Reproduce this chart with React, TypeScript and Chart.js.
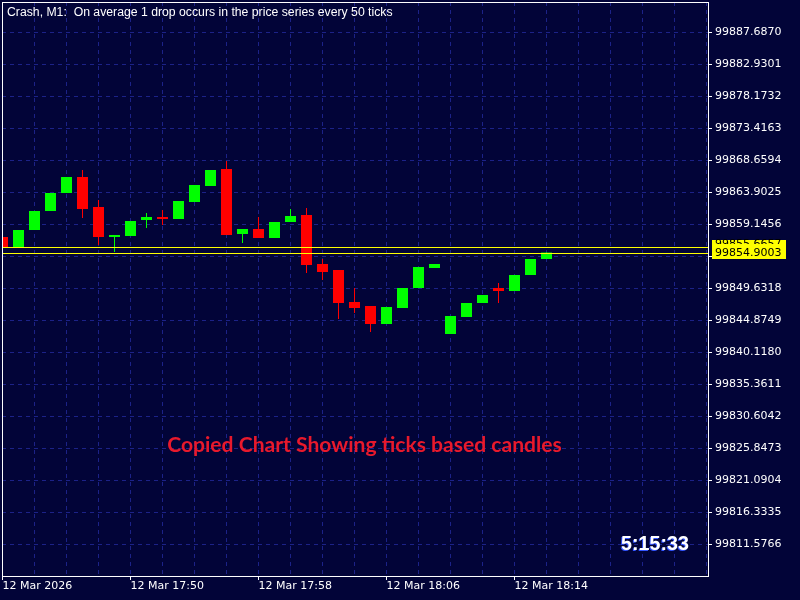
import React, { useEffect, useRef } from 'react';
import { Chart, registerables } from 'chart.js';

Chart.register(...registerables);

// ---- data ----
const candleTimes = [
  '17:42', '17:43', '17:44', '17:45', '17:46', '17:47', '17:48', '17:49', '17:50', '17:51',
  '17:52', '17:53', '17:54', '17:55', '17:56', '17:57', '17:58', '17:59', '18:00', '18:01',
  '18:02', '18:03', '18:04', '18:05', '18:06', '18:07', '18:08', '18:09', '18:10', '18:11',
  '18:12', '18:13', '18:14', '18:15', '18:16',
];

const openPrices = [
  99857.2131, 99855.7266, 99858.2537, 99861.0781, 99863.7539, 99866.1323, 99861.6727, 99857.2131, 99857.3618, 99859.7402,
  99860.1862, 99859.8889, 99862.4160, 99864.7944, 99867.3215, 99857.6591, 99858.4023, 99857.0645, 99859.4429, 99860.4835,
  99853.1995, 99852.3076, 99847.5507, 99846.9560, 99844.2803, 99846.6587, 99849.6318, 99852.6049, 99842.7938, 99845.3209,
  99847.4020, 99849.6318, 99849.1858, 99851.5643, 99853.9427,
];

const highPrices = [
  99857.2131, 99858.2537, 99861.0781, 99863.7539, 99866.1323, 99867.1729, 99862.7133, 99857.5104, 99859.5916, 99860.7808,
  99861.2267, 99862.5646, 99864.9431, 99867.1729, 99868.5107, 99858.4023, 99860.1862, 99859.4429, 99861.3754, 99861.5240,
  99853.9427, 99852.3076, 99849.6318, 99846.9560, 99846.8074, 99849.6318, 99852.7535, 99853.1995, 99845.4695, 99847.4020,
  99848.5912, 99850.3751, 99851.5643, 99853.9427, 99854.9003,
];

const lowPrices = [
  99855.5779, 99855.7266, 99858.2537, 99861.0781, 99863.7539, 99860.0375, 99856.0239, 99854.9833, 99857.3618, 99858.5510,
  99858.9970, 99859.8889, 99862.4160, 99864.7944, 99857.5104, 99856.3212, 99857.0645, 99857.0645, 99859.4429, 99851.8616,
  99850.8210, 99845.0236, 99845.9155, 99843.0911, 99844.2803, 99846.6587, 99849.6318, 99852.6049, 99842.7938, 99845.3209,
  99847.4020, 99847.4020, 99849.1858, 99851.5643, 99853.9427,
];

const closePrices = [
  99855.5779, 99858.2537, 99861.0781, 99863.7539, 99866.1323, 99861.3754, 99857.2131, 99857.5104, 99859.5916, 99860.1862,
  99859.8889, 99862.5646, 99864.9431, 99867.1729, 99857.5104, 99858.4023, 99857.0645, 99859.4429, 99860.3348, 99853.0508,
  99852.0103, 99847.4020, 99846.6587, 99844.2803, 99846.8074, 99849.6318, 99852.7535, 99853.1995, 99845.4695, 99847.4020,
  99848.5912, 99849.1858, 99851.5643, 99853.9427, 99854.9003,
];

const priceTicks = [
  99811.5766, 99816.3335, 99821.0904, 99825.8473, 99830.6042, 99835.3611, 99840.1180, 99844.8749, 99849.6318,
  99854.3887, 99859.1456, 99863.9025, 99868.6594, 99873.4163, 99878.1732, 99882.9301, 99887.6870,
];

const timeTickIndex = [0, 8, 16, 24, 32];
const timeTickLabels = ['12 Mar 2026', '12 Mar 17:50', '12 Mar 17:58', '12 Mar 18:06', '12 Mar 18:14'];

const askPrice = 99855.6657;
const bidPrice = 99854.9003;

const titleText = 'Crash, M1:  On average 1 drop occurs in the price series every 50 ticks';
const noteText = 'Copied Chart Showing ticks based candles';
const timerText = '5:15:33';

const priceMin = 99806.8197;
const priceMax = 99892.1466;
const indexMin = -0.03125;
const indexMax = 44.09375;

// ---- styles ----
const BG = '#020438';
const GRID = '#1c2288';
const UP = '#00ff00';
const DOWN = '#ff0000';
const YELLOW = '#ffff00';
const AXIS_FONT = { family: '"DejaVu Sans"', size: 11 };

function fitSize(ctx: CanvasRenderingContext2D, text: string, weight: string, family: string, width: number) {
  ctx.font = `${weight} 100px ${family}`;
  const w = ctx.measureText(text).width;
  return (100 * width) / w;
}

const overlayPlugin = {
  id: 'overlay',
  beforeDraw(chart: any) {
    const { ctx, width, height } = chart;
    ctx.save();
    ctx.fillStyle = BG;
    ctx.fillRect(0, 0, width, height);
    ctx.restore();
  },
  afterDraw(chart: any) {
    const { ctx, chartArea } = chart;
    const ys = chart.scales.y;
    const { left, right, top, bottom } = chartArea;
    ctx.save();

    // ask / bid lines
    const yAsk = ys.getPixelForValue(askPrice);
    const yBid = ys.getPixelForValue(bidPrice);
    ctx.strokeStyle = YELLOW;
    ctx.lineWidth = 1;
    ctx.setLineDash([]);
    [yAsk, yBid].forEach((y) => {
      const py = Math.round(y) + 0.5;
      ctx.beginPath();
      ctx.moveTo(left, py);
      ctx.lineTo(right, py);
      ctx.stroke();
    });

    // frame
    ctx.strokeStyle = '#ffffff';
    ctx.strokeRect(left + 0.5, top + 0.5, right - left, bottom - top);

    // price labels
    ctx.font = '11px "DejaVu Sans"';
    ctx.textAlign = 'left';
    ctx.textBaseline = 'middle';
    ctx.fillStyle = YELLOW;
    ctx.fillRect(right + 4, Math.round(yAsk) - 7, 74, 14);
    ctx.fillStyle = '#000000';
    ctx.fillText(askPrice.toFixed(4), right + 7, yAsk - 3.4);
    ctx.fillStyle = YELLOW;
    ctx.fillRect(right + 4, Math.round(yBid) - 9, 74, 15);
    ctx.fillStyle = '#000000';
    ctx.fillText(bidPrice.toFixed(4), right + 7, yBid + 0.5);

    // title
    ctx.textBaseline = 'alphabetic';
    const ts = fitSize(ctx, titleText, 'normal', '"Liberation Sans"', 386);
    ctx.font = `normal ${ts}px "Liberation Sans"`;
    ctx.fillStyle = '#ffffff';
    ctx.fillText(titleText, 7, 16);

    // note
    const ns = fitSize(ctx, noteText, 'bold', 'Lato', 395);
    ctx.font = `bold ${ns}px Lato`;
    ctx.fillStyle = '#e8192c';
    ctx.textAlign = 'center';
    ctx.fillText(noteText, 364.5, 452);

    // timer
    const ms = fitSize(ctx, timerText, 'bold', '"Liberation Sans"', 68);
    ctx.font = `bold ${ms}px "Liberation Sans"`;
    ctx.textAlign = 'left';
    ctx.fillStyle = '#3355ff';
    ctx.fillText(timerText, 620, 551);
    ctx.fillStyle = '#ffffff';
    ctx.fillText(timerText, 621, 550);

    ctx.restore();
  },
};

export default function App() {
  const canvasRef = useRef<HTMLCanvasElement | null>(null);

  useEffect(() => {
    if (!canvasRef.current) return;
    const colors = openPrices.map((o, i) => (closePrices[i] >= o ? UP : DOWN));
    const bodies = openPrices.map((o, i) => ({ x: i, y: [o, closePrices[i]] }));
    const wicks = lowPrices.map((l, i) => ({ x: i, y: [l, highPrices[i]] }));
    const gridTicks: number[] = [];
    for (let v = 0; v <= indexMax; v += 2) gridTicks.push(v);

    const chart = new Chart(canvasRef.current, {
      type: 'bar',
      data: {
        datasets: [
          {
            data: bodies as any,
            backgroundColor: colors,
            borderWidth: 0,
            barThickness: 11,
            grouped: false,
            clip: 0,
            inflateAmount: 0,
            order: 0,
          } as any,
          {
            data: wicks as any,
            backgroundColor: colors,
            borderWidth: 0,
            barThickness: 1,
            grouped: false,
            clip: 0,
            inflateAmount: 0,
            order: 1,
          } as any,
        ],
      },
      options: {
        responsive: false,
        animation: false,
        devicePixelRatio: 1,
        events: [],
        layout: { padding: { left: 2, top: 2, right: 0, bottom: 0 } },
        plugins: { legend: { display: false }, tooltip: { enabled: false }, title: { display: false } },
        scales: {
          x: {
            type: 'linear',
            position: 'bottom',
            min: indexMin,
            max: indexMax,
            offset: false,
            grid: {
              offset: false,
              color: GRID,
              lineWidth: 1,
              tickLength: 4,
              tickColor: (c: any) => (c.tick && timeTickIndex.includes(c.tick.value) ? '#ffffff' : 'rgba(0,0,0,0)'),
            },
            border: { display: false, dash: [4, 4] },
            ticks: {
              autoSkip: false,
              maxRotation: 0,
              minRotation: 0,
              align: 'start',
              padding: 0,
              color: '#ffffff',
              font: AXIS_FONT,
              callback: (v: any) => {
                const k = timeTickIndex.indexOf(Number(v));
                return k >= 0 ? timeTickLabels[k] : '';
              },
            },
            afterBuildTicks: (s: any) => {
              s.ticks = gridTicks.map((v) => ({ value: v }));
            },
            afterFit: (s: any) => {
              s.height = 24;
              s.paddingLeft = 0;
              s.paddingRight = 0;
              s.paddingTop = 0;
              s.paddingBottom = 0;
            },
          } as any,
          y: {
            type: 'linear',
            position: 'right',
            min: priceMin,
            max: priceMax,
            grid: {
              color: GRID,
              lineWidth: 1,
              tickLength: 4,
              tickColor: '#ffffff',
            },
            border: { display: false, dash: [4, 4] },
            ticks: {
              autoSkip: false,
              padding: 3,
              crossAlign: 'near',
              color: '#ffffff',
              font: AXIS_FONT,
              callback: (v: any) => Number(v).toFixed(4),
            },
            afterBuildTicks: (s: any) => {
              s.ticks = priceTicks.map((v) => ({ value: v }));
            },
            afterFit: (s: any) => {
              s.width = 92;
              s.paddingLeft = 0;
              s.paddingRight = 0;
              s.paddingTop = 0;
              s.paddingBottom = 0;
            },
          } as any,
        },
      },
      plugins: [overlayPlugin],
    } as any);

    return () => chart.destroy();
  }, []);

  return (
    <div style={{ position: 'fixed', left: 0, top: 0, width: 800, height: 600, background: BG }}>
      <canvas ref={canvasRef} width={800} height={600} style={{ display: 'block', width: 800, height: 600 }} />
    </div>
  );
}
